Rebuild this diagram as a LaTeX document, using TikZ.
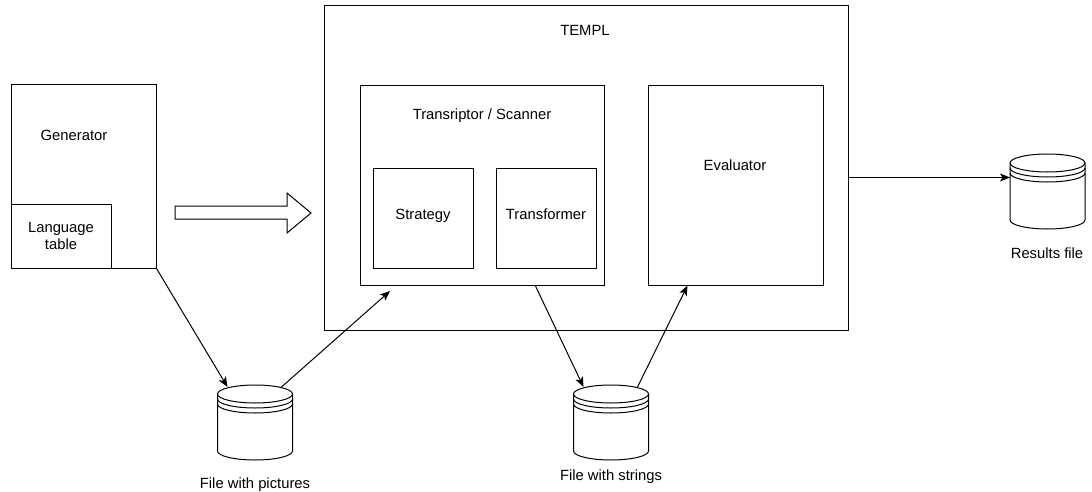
\documentclass[tikz,border=0pt]{standalone}
\usepackage{fontspec}
\setmainfont{Liberation Sans}
\usetikzlibrary{arrows.meta,calc}
\tikzset{
  box/.style={draw=black, line width=1pt, fill=white, inner sep=0pt},
  lbl/.style={font=\fontsize{14.8}{17}\selectfont, align=center, inner sep=0pt},
  arr/.style={draw=black, line width=1pt, -{Stealth[length=10pt,width=8pt,inset=2.5pt]}},
  datastore/.pic={
    \draw[line width=1pt, fill=white] (-37.5,-28.5) -- (-37.5,28.5)
      arc[start angle=180,end angle=0,x radius=37.5,y radius=9]
      -- (37.5,-28.5)
      arc[start angle=0,end angle=-180,x radius=37.5,y radius=9] -- cycle;
    \draw[line width=1pt] (-37.5,-28.5) arc[start angle=180,end angle=0,x radius=37.5,y radius=9];
    \draw[line width=1pt] (-37.5,-23.5) arc[start angle=180,end angle=0,x radius=37.5,y radius=9];
    \draw[line width=1pt] (-37.5,-18.5) arc[start angle=180,end angle=0,x radius=37.5,y radius=9];
    \coordinate (-tl) at (-27.5,-35.5);
    \coordinate (-tr) at (26.5,-35.5);
    \coordinate (-w) at (-37.5,-14);
  }
}
\begin{document}
\begin{tikzpicture}[x=1pt,y=-1pt]
\useasboundingbox (0,0) rectangle (1092,492);

% Generator
\node[box, minimum width=145pt, minimum height=183pt] (gen) at (83.5,176.5) {};
\node[lbl] (gentxt) at (74,135) {Generator};
\node[box, minimum width=100pt, minimum height=64pt] (langbox) at (61,236) {};
\node[lbl] (lang) at (61,236) {Language\\[-0.5pt]table};

% big outlined arrow
\draw[line width=1pt, fill=white] (175,206) -- (287,206) -- (287,193) -- (311,213)
  -- (287,233) -- (287,219) -- (175,219) -- cycle;

% TEMPL
\node[box, minimum width=524pt, minimum height=324pt] (templ) at (586,168) {};
\node[lbl] (templtxt) at (585,30) {TEMPL};

% Transcriptor / Scanner
\node[box, minimum width=244pt, minimum height=199pt] (trans) at (482.5,185.5) {};
\node[lbl] (transtxt) at (482,116) {Transriptor / Scanner};
\node[box, minimum width=100pt, minimum height=100pt] (strat) at (423,218) {};
\node[lbl] (strattxt) at (423,216) {Strategy};
\node[box, minimum width=100pt, minimum height=100pt] (transf) at (546,218) {};
\node[lbl] (transftxt) at (546,214) {Transformer};

% Evaluator
\node[box, minimum width=175pt, minimum height=199pt] (eval) at (735.5,185.5) {};
\node[lbl] (evaltxt) at (735,165) {Evaluator};

% data stores
\pic (c1) at (255,422.5) {datastore};
\node[lbl] (c1txt) at (255,485) {File with pictures};
\pic (c2) at (611,422.5) {datastore};
\node[lbl] (c2txt) at (611,477) {File with strings};
\pic (c3) at (1047.5,191.5) {datastore};
\node[lbl] (c3txt) at (1047,253) {Results file};

% connectors
\coordinate (a2end) at (390,291);
\coordinate (a3start) at (535,285);
\coordinate (a4end) at (687.5,285.5);
\draw[arr] (gen.south east) -- (c1-tl);
\draw[arr] (c1-tr) -- (a2end);
\draw[arr] (a3start) -- (c2-tl);
\draw[arr] (c2-tr) -- (a4end);
\draw[arr] (templ.east |- c3-w) -- (c3-w);
\end{tikzpicture}
\end{document}
